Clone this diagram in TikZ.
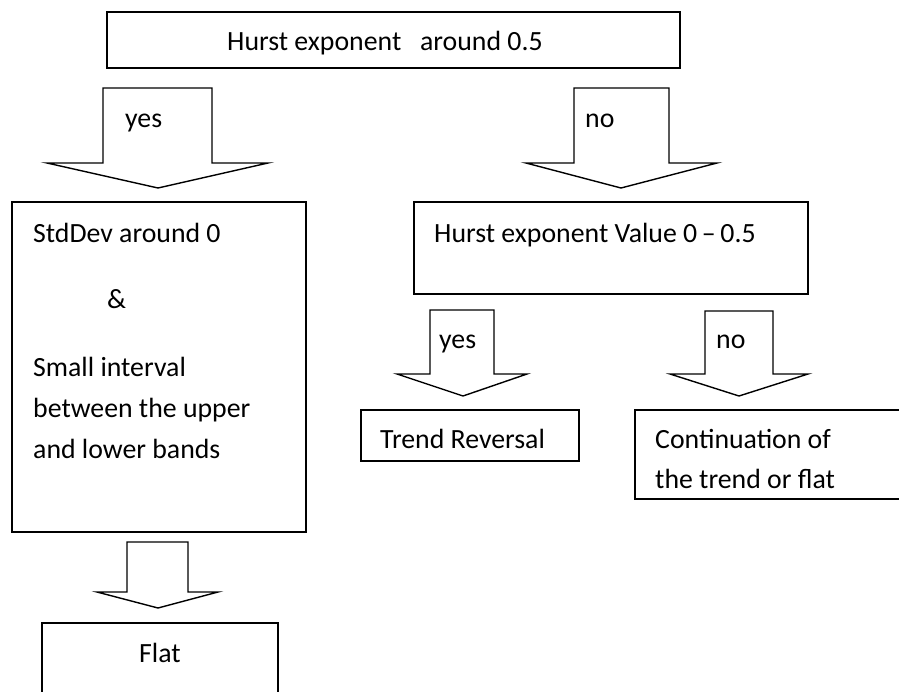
\documentclass[tikz,border=0pt]{standalone}
\usepackage{fontspec}
\setmainfont{Carlito}
\begin{document}
\begin{tikzpicture}%
	[x=1pt, y=-1pt,
	box/.style={draw=black, line width=1.4pt, rectangle, inner sep=0pt, outer sep=0pt},
	bigarrow/.style={draw=black, line width=1.4pt, line join=miter, fill=white},
	txt/.style={inner sep=0pt, anchor=base west, font=\fontsize{27.8}{33}\selectfont}]
\clip (0,0) rectangle (899,691);
%%
%% Drawing the boxes
%%
\node[box, minimum width=573, minimum height=56] (hurst) at (393.5,40) {};
\node[box, minimum width=294, minimum height=330] (stddev) at (159,367) {};
\node[box, minimum width=394, minimum height=92] (value) at (611,248) {};
\node[box, minimum width=218, minimum height=51] (reversal) at (470,435.5) {};
\node[box, minimum width=285, minimum height=89] (continuation) at (777.5,454.5) {};
\node[box, minimum width=236, minimum height=87] (flat) at (160,666.5) {};
%%
%% Drawing the block arrows
%%
\draw[bigarrow] (103,88) -- (212,88) -- (212,163) -- (268,163) -- (158,188) -- (47,163) -- (103,163) -- cycle;
\draw[bigarrow] (574,88) -- (669,88) -- (669,163) -- (717,163) -- (621,188) -- (526,163) -- (574,163) -- cycle;
\draw[bigarrow] (430,310) -- (494,310) -- (494,374) -- (527,374) -- (463,396) -- (397,374) -- (430,374) -- cycle;
\draw[bigarrow] (705,311) -- (773,311) -- (773,374) -- (808,374) -- (739,396) -- (670,374) -- (705,374) -- cycle;
\draw[bigarrow] (127,542) -- (188,542) -- (188,592) -- (218,592) -- (158,608) -- (97,592) -- (127,592) -- cycle;
%%
%% Drawing the texts
%%
\node[txt] (hursttext) at (227,50) {Hurst exponent \ \ around 0.5};
\node[txt] (yesleft) at (125,127) {yes};
\node[txt] (noright) at (585,127) {no};
\node[txt] (stdtext) at (33,242) {StdDev around 0};
\node[txt] (andtext) at (107,308) {\&};
\node[txt] (smalltext) at (33,376) {Small interval};
\node[txt] (betweentext) at (33,417) {between the upper};
\node[txt] (bandstext) at (33,458) {and lower bands};
\node[txt] (valuetext) at (434,242) {Hurst exponent Value 0\,–\,0.5};
\node[txt] (yesmid) at (439,348) {yes};
\node[txt] (nomid) at (716,348) {no};
\node[txt] (reversaltext) at (380,448) {Trend Reversal};
\node[txt] (conttext) at (655,448) {Continuation of};
\node[txt] (trendtext) at (655,488) {the trend or flat};
\node[txt] (flattext) at (139,662) {Flat};
%%
\end{tikzpicture}
\end{document}
